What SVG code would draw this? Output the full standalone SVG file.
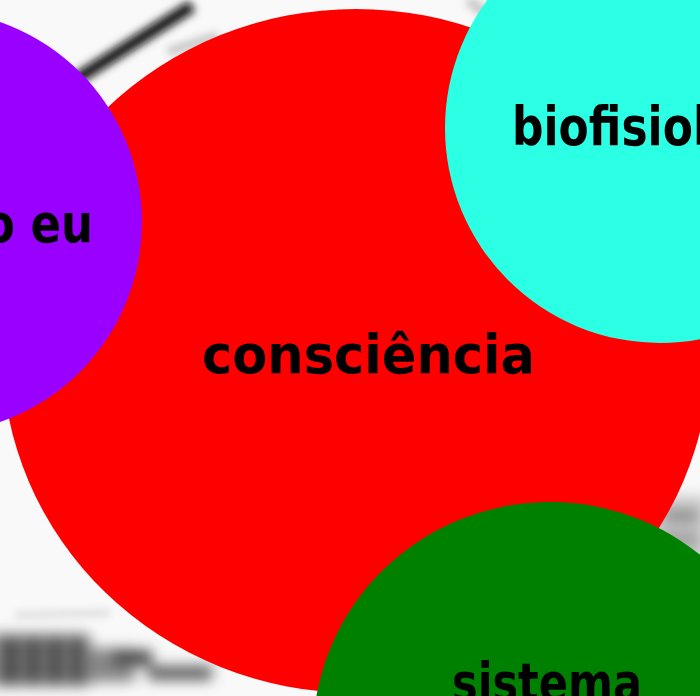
<svg xmlns="http://www.w3.org/2000/svg" width="700" height="696" viewBox="0 0 700 696">
  <defs>
    <filter id="blur" x="-30%" y="-30%" width="160%" height="160%">
      <feGaussianBlur stdDeviation="4.5"/>
    </filter>
    <filter id="blur2" x="-30%" y="-30%" width="160%" height="160%">
      <feGaussianBlur stdDeviation="7"/>
    </filter>
  </defs>
  <style>
    .lbl { font-family: "DejaVu Sans", "Liberation Sans", sans-serif; font-weight: bold; font-size: 54px; fill: #000; }
  </style>
  <g id="background">
    <rect x="0" y="0" width="700" height="696" fill="#f9f9f9"/>
    <g filter="url(#blur)">
      <line x1="75" y1="80" x2="192" y2="6" stroke="#111" stroke-width="12"/>
      <line x1="168" y1="52" x2="218" y2="36" stroke="#bdbdbd" stroke-width="8"/>
      <line x1="468" y1="0" x2="500" y2="24" stroke="#c4c4c4" stroke-width="10"/>
      <line x1="15" y1="615" x2="110" y2="613" stroke="#c8c8c8" stroke-width="4"/>
    </g>
    <g filter="url(#blur2)">
      <rect x="-10" y="634" width="100" height="52" fill="#777"/>
      <rect x="6" y="638" width="10" height="46" fill="#2a2a2a"/>
      <rect x="28" y="638" width="10" height="46" fill="#333"/>
      <rect x="50" y="638" width="10" height="46" fill="#333"/>
      <rect x="72" y="638" width="10" height="46" fill="#3c3c3c"/>
      <rect x="90" y="648" width="45" height="34" fill="#888"/>
      <rect x="112" y="650" width="40" height="16" fill="#4a4a4a"/>
      <rect x="148" y="666" width="64" height="14" fill="#5a5a5a"/>
      <rect x="648" y="496" width="60" height="68" fill="#c8c8c8"/>
      <rect x="664" y="510" width="34" height="12" fill="#858585"/>
      <rect x="660" y="534" width="38" height="12" fill="#939393"/>
    </g>
  </g>
  <g id="connectors"/>
  <g id="node-consciencia">
    <ellipse cx="356" cy="351" rx="354" ry="342" fill="#ff0000"/>
    <text class="lbl" x="202" y="373" textLength="333" lengthAdjust="spacingAndGlyphs">consciência</text>
  </g>
  <g id="node-o-eu">
    <circle cx="-70" cy="222" r="212" fill="#9900ff"/>
    <text class="lbl" x="-16" y="242" textLength="109" lengthAdjust="spacingAndGlyphs">o eu</text>
  </g>
  <g id="node-biofisiologia">
    <circle cx="660" cy="128" r="215" fill="#2bffe4"/>
    <text class="lbl" x="512" y="145" textLength="196" lengthAdjust="spacingAndGlyphs">biofisiol</text>
  </g>
  <g id="node-sistema">
    <ellipse cx="550" cy="736" rx="237" ry="234" fill="#008000"/>
    <text class="lbl" x="452" y="701" textLength="190" lengthAdjust="spacingAndGlyphs">sistema</text>
  </g>
</svg>
